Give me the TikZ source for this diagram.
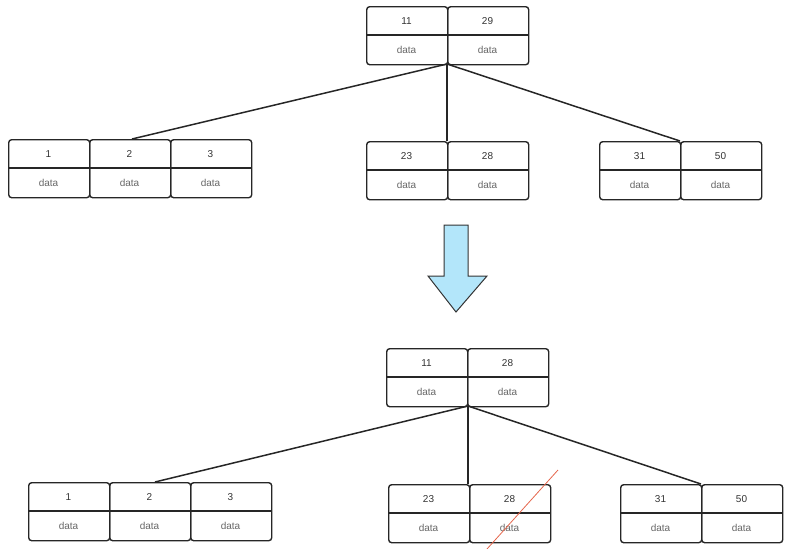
\documentclass[tikz,border=0pt]{standalone}
\usepackage{fontspec}
\setmainfont{Liberation Sans}
\begin{document}
\begin{tikzpicture}[x=1pt,y=-1pt,
  cell/.style={draw=black!85,line width=1.4pt,rounded corners=3pt,minimum width=81pt,minimum height=58pt,inner sep=0pt,anchor=north west},
  key/.style={font=\fontsize{10}{11}\selectfont,text=black!80},
  dat/.style={font=\fontsize{10}{11}\selectfont,text=black!60},
  edge/.style={line width=1.5pt,black!85}]
\useasboundingbox (0,0) rectangle (788,549);
\newcommand{\bnode}[4]{%
  \foreach \k [count=\i from 0] in {#4}{
    \node[cell] (#1\i) at ({#2+81*\i},#3) {};
    \draw[line width=1.4pt,black!85] ({#2+81*\i},{#3+29}) -- ({#2+81*\i+81},{#3+29});
    \node[key] at ({#2+81*\i+40.5},{#3+15}) {\k};
    \node[dat] at ({#2+81*\i+40.5},{#3+44}) {data};
  }}
\bnode{r}{366}{6}{11,29}
\bnode{a}{8}{139}{1,2,3}
\bnode{b}{366}{141}{23,28}
\bnode{c}{599}{141}{31,50}
\coordinate (rb) at (447,64);
\draw[edge] (rb) -- (132,139);
\draw[edge] (rb) -- (447,141);
\draw[edge] (rb) -- (680,141);
\draw[line width=1pt,black!80,fill=cyan!30] (444,225) -- (468,225) -- (468,276) -- (487,276) -- (456,312) -- (428,276) -- (444,276) -- cycle;
\bnode{R}{386}{348}{11,28}
\bnode{A}{28}{482}{1,2,3}
\bnode{B}{388}{484}{23,28}
\bnode{C}{620}{484}{31,50}
\coordinate (Rb) at (468,406);
\draw[edge] (Rb) -- (155,482);
\draw[edge] (Rb) -- (468,484);
\draw[edge] (Rb) -- (701,484);
\draw[red!50!brown!80,line width=0.8pt] (558,470) -- (487,549);
\end{tikzpicture}
\end{document}
